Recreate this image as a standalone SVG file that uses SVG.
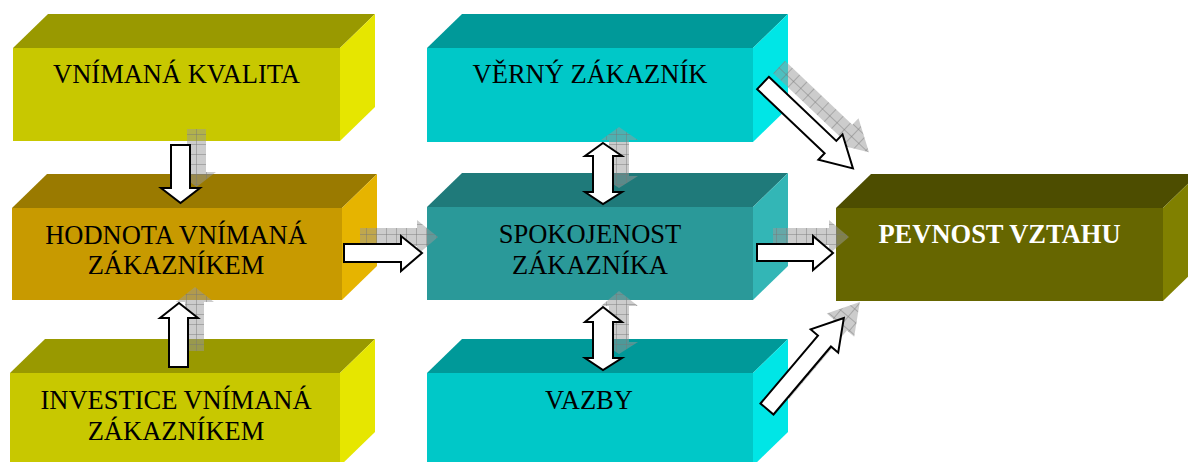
<svg xmlns="http://www.w3.org/2000/svg" width="1188" height="462" viewBox="0 0 1188 462">
  <defs>
    <pattern id="hatch" width="10" height="10" patternUnits="userSpaceOnUse">
      <rect width="10" height="10" fill="#999999" fill-opacity="0.5"/>
      <path d="M0 0.5H10M0.5 0V10" stroke="#777777" stroke-opacity="0.45" stroke-width="1"/>
    </pattern>
  </defs>
  <style>
    .lbl { font-family: "Liberation Serif", "Times New Roman", serif; font-size: 26.5px; fill: #000; text-anchor: middle; }
    .lblw { font-family: "Liberation Serif", "Times New Roman", serif; font-size: 26.5px; font-weight: bold; fill: #fff; text-anchor: middle; }
    .arrow { fill: #fff; stroke: #000; stroke-width: 2; stroke-linejoin: miter; }
    .shadow { fill: url(#hatch); stroke: none; }
    .y-front { fill: #c8c800; } .y-top { fill: #999900; } .y-side { fill: #e6e600; }
    .o-front { fill: #c89a00; } .o-top { fill: #9a7a00; } .o-side { fill: #e6b400; }
    .c-front { fill: #00c8c8; } .c-top { fill: #009999; } .c-side { fill: #00e6e6; }
    .t-front { fill: #2a9999; } .t-top { fill: #1f7a7a; } .t-side { fill: #33b6b6; }
    .d-front { fill: #666600; } .d-top { fill: #4d4d00; } .d-side { fill: #808000; }
  </style>

  <g id="node-vnimana-kvalita">
    <polygon class="y-top" points="13,48 48,14 375,14 340,48"/>
    <polygon class="y-side" points="340,48 375,14 375,107 340,141"/>
    <rect class="y-front" x="13" y="48" width="327" height="93"/>
    <text class="lbl" x="176.5" y="83">VNÍMANÁ KVALITA</text>
  </g>

  <g id="node-hodnota">
    <polygon class="o-top" points="12,208 47,174 377,174 342,208"/>
    <polygon class="o-side" points="342,208 377,174 377,266 342,300"/>
    <rect class="o-front" x="12" y="208" width="330" height="92"/>
    <text class="lbl" x="176" y="244">HODNOTA VNÍMANÁ</text>
    <text class="lbl" x="176" y="274">ZÁKAZNÍKEM</text>
  </g>

  <g id="node-investice">
    <polygon class="y-top" points="10,373 45,339 375,339 340,373"/>
    <polygon class="y-side" points="340,373 375,339 375,432 340,466"/>
    <rect class="y-front" x="10" y="373" width="330" height="93"/>
    <text class="lbl" x="176" y="409">INVESTICE VNÍMANÁ</text>
    <text class="lbl" x="176" y="440">ZÁKAZNÍKEM</text>
  </g>

  <g id="node-verny-zakaznik">
    <polygon class="c-top" points="427,48 462,14 788,14 753,48"/>
    <polygon class="c-side" points="753,48 788,14 788,108 753,142"/>
    <rect class="c-front" x="427" y="48" width="326" height="94"/>
    <text class="lbl" x="590" y="83">VĚRNÝ ZÁKAZNÍK</text>
  </g>

  <g id="node-spokojenost">
    <polygon class="t-top" points="427,207 462,173 788,173 753,207"/>
    <polygon class="t-side" points="753,207 788,173 788,266 753,300"/>
    <rect class="t-front" x="427" y="207" width="326" height="93"/>
    <text class="lbl" x="590" y="243">SPOKOJENOST</text>
    <text class="lbl" x="590" y="274">ZÁKAZNÍKA</text>
  </g>

  <g id="node-vazby">
    <polygon class="c-top" points="427,373 462,339 788,339 753,373"/>
    <polygon class="c-side" points="753,373 788,339 788,432 753,466"/>
    <rect class="c-front" x="427" y="373" width="326" height="93"/>
    <text class="lbl" x="589" y="409">VAZBY</text>
  </g>

  <g id="node-pevnost-vztahu">
    <polygon class="d-top" points="836,208 871,174 1198,174 1163,208"/>
    <polygon class="d-side" points="1163,208 1198,174 1198,267 1163,301"/>
    <rect class="d-front" x="836" y="208" width="327" height="93"/>
    <text class="lblw" x="999.5" y="243">PEVNOST VZTAHU</text>
  </g>

  <g id="connectors">
    <g id="arrow-kvalita-hodnota">
      <polygon class="shadow" transform="translate(16,-16)" points="171,145 190,145 190,188 200,188 180.5,203 161,188 171,188"/>
      <polygon class="arrow" points="171,145 190,145 190,188 200,188 180.5,203 161,188 171,188"/>
    </g>
    <g id="arrow-investice-hodnota">
      <polygon class="shadow" transform="translate(16,-16)" points="169,367 188,367 188,318 198,318 179,303 160,318 169,318"/>
      <polygon class="arrow" points="169,367 188,367 188,318 198,318 179,303 160,318 169,318"/>
    </g>
    <g id="arrow-hodnota-spokojenost">
      <polygon class="shadow" transform="translate(16,-16)" points="344,244 401,244 401,236 422,253 401,271 401,262 344,262"/>
      <polygon class="arrow" points="344,244 401,244 401,236 422,253 401,271 401,262 344,262"/>
    </g>
    <g id="arrow-spokojenost-pevnost">
      <polygon class="shadow" transform="translate(16,-16)" points="757,244 813,244 813,236 833,253 813,270 813,261 757,261"/>
      <polygon class="arrow" points="757,244 813,244 813,236 833,253 813,270 813,261 757,261"/>
    </g>
    <g id="arrow-verny-spokojenost">
      <polygon class="shadow" transform="translate(16,-16)" points="603,143 622,156 613,156 613,192 622,192 603,204 585,192 593,192 593,156 585,156"/>
      <polygon class="arrow" points="603,143 622,156 613,156 613,192 622,192 603,204 585,192 593,192 593,156 585,156"/>
    </g>
    <g id="arrow-spokojenost-vazby">
      <polygon class="shadow" transform="translate(16,-16)" points="603,307 622,322 613,322 613,358 622,358 603,370 585,358 593,358 593,322 585,322"/>
      <polygon class="arrow" points="603,307 622,322 613,322 613,358 622,358 603,370 585,358 593,358 593,322 585,322"/>
    </g>
    <g id="arrow-verny-pevnost">
      <g transform="translate(16,-16)">
        <path class="shadow" transform="translate(763,83) rotate(43.5)" d="M0,-8.5 H93 V-17.5 L124,0 L93,17.5 V8.5 H0 Z"/>
      </g>
      <path class="arrow" transform="translate(763,83) rotate(43.5)" d="M0,-8.5 H93 V-17.5 L124,0 L93,17.5 V8.5 H0 Z"/>
    </g>
    <g id="arrow-vazby-pevnost">
      <g transform="translate(16,-16)">
        <path class="shadow" transform="translate(767,409) rotate(-49.8)" d="M0,-8.5 H89 V-18 L119,0 L89,18 V8.5 H0 Z"/>
      </g>
      <path class="arrow" transform="translate(767,409) rotate(-49.8)" d="M0,-8.5 H89 V-18 L119,0 L89,18 V8.5 H0 Z"/>
    </g>
  </g>
</svg>
